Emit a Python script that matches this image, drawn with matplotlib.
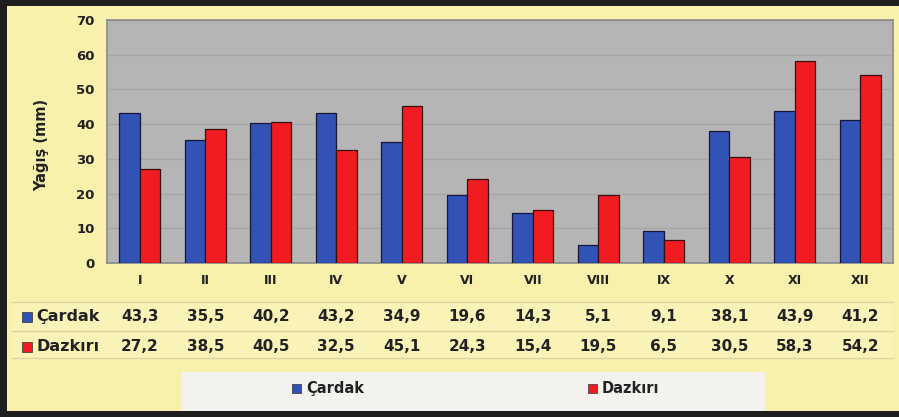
import matplotlib.pyplot as plt
from matplotlib.patches import Rectangle
from matplotlib.transforms import blended_transform_factory
import numpy as np

months = ['I', 'II', 'III', 'IV', 'V', 'VI', 'VII', 'VIII', 'IX', 'X', 'XI', 'XII']
cardak = [43.3, 35.5, 40.2, 43.2, 34.9, 19.6, 14.3, 5.1, 9.1, 38.1, 43.9, 41.2]
dazkiri = [27.2, 38.5, 40.5, 32.5, 45.1, 24.3, 15.4, 19.5, 6.5, 30.5, 58.3, 54.2]
series_names = ['Çardak', 'Dazkırı']

blue = '#3352b5'
red = '#f01c22'
yellow = '#f8f1ac'
txt = '#222222'

plt.rcParams['font.family'] = ['DejaVu Sans']
plt.rcParams['font.weight'] = 'bold'

W, H = 899, 417
fig = plt.figure(figsize=(W / 100, H / 100), dpi=100)
fig.patch.set_facecolor('#1e1e1e')


def fy(py):
    # pixel row from the top -> figure fraction
    return 1 - py / H


# yellow panel inside the dark frame
fig.patches.append(Rectangle((7 / W, fy(411)), 892 / W, 405 / H, transform=fig.transFigure,
                             facecolor=yellow, edgecolor='none', zorder=-5))

ax = fig.add_axes([107 / W, fy(263), 786 / W, 243 / H])
ax.set_facecolor('#b5b5b5')
x = np.arange(len(months))
bw = 0.31
ax.bar(x - bw / 2, cardak, bw, color=blue, edgecolor='#161638', linewidth=0.9, zorder=3)
ax.bar(x + bw / 2, dazkiri, bw, color=red, edgecolor='#3a0e0e', linewidth=0.9, zorder=3)

ax.set_xlim(-0.5, len(months) - 0.5)
ax.set_ylim(0, 70)
ax.set_yticks(range(0, 71, 10))
ax.tick_params(axis='y', length=0, pad=9, labelsize=9.5, colors=txt)
ax.set_xticks([])
ax.grid(axis='y', color='#a6a6a6', linewidth=1, zorder=0)
for s in ax.spines.values():
    s.set_color('#8a8a8a')
    s.set_linewidth(1.2)
fig.text(42 / W, fy(145), 'Yağış (mm)', rotation=90, ha='center', va='center',
         fontsize=10.5, fontweight='bold', color=txt)

# data table under the chart
tr = blended_transform_factory(ax.transData, fig.transFigure)
for i, m in enumerate(months):
    ax.text(i, fy(281), m, transform=tr, ha='center', va='center',
            fontsize=9, fontweight='bold', color=txt)
    ax.text(i, fy(316.5), f'{cardak[i]:.1f}'.replace('.', ','), transform=tr, ha='center',
            va='center', fontsize=11, fontweight='bold', color=txt)
    ax.text(i, fy(346.5), f'{dazkiri[i]:.1f}'.replace('.', ','), transform=tr, ha='center',
            va='center', fontsize=11, fontweight='bold', color=txt)

fig.patches.append(Rectangle((12 / W, fy(358)), 881 / W, 56 / H, transform=fig.transFigure,
                             facecolor='#f9f3b8', edgecolor='none', zorder=-4))
for yy in [302, 331, 358]:
    fig.add_artist(plt.Line2D([12 / W, 893 / W], [fy(yy)] * 2, transform=fig.transFigure,
                              color='#ddd4a0', linewidth=1, zorder=-3))

for name, col, yy in [(series_names[0], blue, 316.5), (series_names[1], red, 346.5)]:
    fig.patches.append(Rectangle((22 / W, fy(yy + 5)), 10 / W, 10 / H, transform=fig.transFigure,
                                 facecolor=col, edgecolor='#303030', linewidth=0.5))
    fig.text(36 / W, fy(yy), name, ha='left', va='center', fontsize=11.5,
             fontweight='bold', color=txt)

# legend box
fig.patches.append(Rectangle((182 / W, fy(411)), 583 / W, 39 / H, transform=fig.transFigure,
                             facecolor='#f3f2ee', edgecolor='none', zorder=-2))
for name, col, xx in [(series_names[0], blue, 292), (series_names[1], red, 588)]:
    fig.patches.append(Rectangle((xx / W, fy(393)), 9 / W, 9 / H, transform=fig.transFigure,
                                 facecolor=col, edgecolor='#303030', linewidth=0.5))
    fig.text((xx + 14) / W, fy(388.5), name, ha='left', va='center', fontsize=10.5,
             fontweight='bold', color=txt)

fig.savefig('out.png', dpi=100, facecolor=fig.get_facecolor())
